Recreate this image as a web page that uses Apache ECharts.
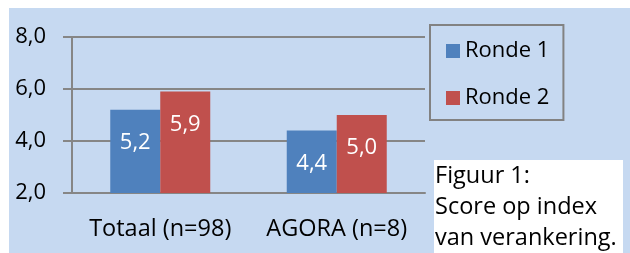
<!DOCTYPE html>
<html>
<head>
<meta charset="utf-8">
<script src="https://cdn.jsdelivr.net/npm/echarts@6/dist/echarts.min.js"></script>
<style>
  html, body { margin: 0; padding: 0; background: #fff; }
  #chart { width: 630px; height: 253px; }
</style>
</head>
<body>
<div id="chart"></div>
<script>
  // data
  var categories = ['Totaal (n=98)', 'AGORA (n=8)'];
  var ronde1 = [5.2, 4.4];
  var ronde2 = [5.9, 5.0];
  var seriesNames = ['Ronde 1', 'Ronde 2'];
  var caption = ['Figuur 1:', 'Score op index', 'van verankering.'];

  var font = '"Open Sans", "Noto Sans", sans-serif';
  var comma = function (v) { return v.toFixed(1).replace('.', ','); };

  var myChart = echarts.init(document.getElementById('chart'));
  myChart.setOption({
    backgroundColor: '#ffffff',
    animation: false,
    textStyle: { fontFamily: font },
    grid: { left: 72, right: 205, top: 37, bottom: 60 },
    legend: {
      data: seriesNames,
      orient: 'vertical',
      left: 430,
      top: 25,
      padding: [15, 14, 11, 16],
      borderColor: '#828282',
      borderWidth: 2,
      itemGap: 25,
      itemWidth: 14,
      itemHeight: 14,
      icon: 'rect',
      textStyle: { fontSize: 22, color: '#000', lineHeight: 22 }
    },
    xAxis: {
      type: 'category',
      data: categories,
      axisLine: { lineStyle: { color: '#868686', width: 2 } },
      axisTick: { length: 8, lineStyle: { color: '#868686', width: 2 } },
      axisLabel: { fontSize: 23.5, color: '#000', margin: 24, interval: 0 }
    },
    yAxis: {
      type: 'value',
      min: 2,
      max: 8,
      interval: 2,
      axisLine: { show: true, lineStyle: { color: '#868686', width: 2 } },
      axisTick: { show: true, length: 9, lineStyle: { color: '#868686', width: 2 } },
      splitLine: { lineStyle: { color: '#868686', width: 2 } },
      axisLabel: { fontSize: 22, color: '#000', margin: 26, formatter: comma }
    },
    graphic: [
      { type: 'rect', z: -10, silent: true, shape: { x: 9, y: 8, width: 621, height: 245 }, style: { fill: '#c6d9f1' } },
      { type: 'rect', z: 10, shape: { x: 434, y: 160, width: 189, height: 93 }, style: { fill: '#ffffff' } },
      { type: 'text', z: 11, left: 435, top: 161, style: { text: caption.join('\n'), font: '23.5px ' + font, lineHeight: 31, fill: '#000' } }
    ],
    series: [
      {
        name: seriesNames[0], type: 'bar', data: ronde1, barWidth: 50, barGap: '0%',
        itemStyle: { color: '#4f81bd' },
        label: { show: true, position: 'insideTop', distance: 22, color: '#fff', fontSize: 22, formatter: function (p) { return comma(p.value); } }
      },
      {
        name: seriesNames[1], type: 'bar', data: ronde2, barWidth: 50,
        itemStyle: { color: '#c0504d' },
        label: { show: true, position: 'insideTop', distance: 22, color: '#fff', fontSize: 22, formatter: function (p) { return comma(p.value); } }
      }
    ]
  });
</script>
</body>
</html>
